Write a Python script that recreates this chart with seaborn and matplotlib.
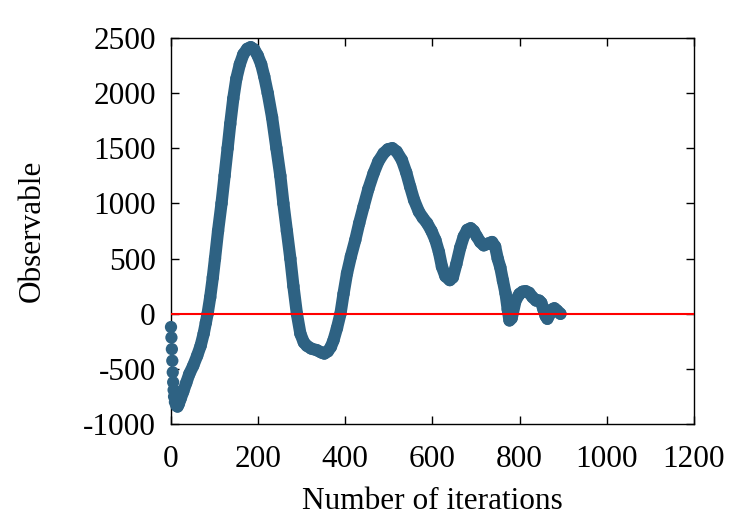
import pandas as pd
import seaborn as sns
import matplotlib.pyplot as plt

# values
iterations = [0, 1, 2, 3, 4, 5, 6, 7, 9, 12, 15, 18, 22, 28, 35, 42, 51, 60, 68, 75,
              80, 84, 90, 96, 101, 108, 116, 123, 130, 136, 143, 150, 158, 166, 175,
              183, 191, 199, 207, 214, 222, 232, 242, 251, 258, 266, 274, 281, 289,
              297, 305, 312, 322, 335, 345, 352, 360, 367, 373, 381, 389, 396, 404,
              413, 423, 432, 442, 453, 465, 476, 488, 498, 508, 518, 530, 540, 549,
              558, 569, 578, 588, 598, 607, 615, 622, 630, 640, 647, 655, 664, 672,
              680, 688, 695, 702, 710, 718, 727, 737, 744, 750, 756, 762, 768, 773,
              777, 782, 791, 800, 807, 814, 822, 830, 838, 845, 850, 855, 860, 864,
              870, 875, 880, 886, 894]
observable = [-120, -215, -320, -425, -530, -620, -690, -750, -800, -830, -840, -815,
              -770, -705, -625, -545, -470, -380, -290, -180, -80, 0, 150, 330, 500,
              750, 1000, 1250, 1500, 1720, 1950, 2130, 2260, 2350, 2400, 2415, 2395,
              2340, 2260, 2150, 2000, 1780, 1500, 1250, 1000, 750, 500, 250, 0, -180,
              -260, -290, -315, -330, -350, -360, -340, -300, -240, -130, 0, 180, 366,
              520, 668, 820, 970, 1130, 1273, 1380, 1454, 1490, 1500, 1470, 1393, 1280,
              1151, 1030, 925, 870, 820, 750, 668, 560, 426, 340, 305, 330, 450, 600,
              700, 760, 775, 750, 700, 650, 620, 635, 650, 610, 500, 420, 300, 185, 40,
              -60, -40, 120, 180, 200, 205, 190, 150, 120, 120, 100, 40, -20, -45, 0,
              40, 50, 30, 0]
baseline = 0
x_ticks = [0, 200, 400, 600, 800, 1000, 1200]
y_ticks = [-1000, -500, 0, 500, 1000, 1500, 2000, 2500]

blue = '#2e6283'

sns.set_style('ticks')
plt.rcParams['font.family'] = ['Liberation Serif', 'DejaVu Serif']
plt.rcParams['axes.unicode_minus'] = False
plt.rcParams['text.color'] = 'black'
plt.rcParams['axes.labelcolor'] = 'black'
plt.rcParams['xtick.color'] = 'black'
plt.rcParams['ytick.color'] = 'black'

fig, ax = plt.subplots(figsize=(7.5, 5.25), dpi=100)
fig.subplots_adjust(left=0.228, right=0.925, top=0.928, bottom=0.192)

df = pd.DataFrame({'iteration': iterations, 'observable': observable})
curve = df[df['iteration'] >= 6]

sns.lineplot(data=curve, x='iteration', y='observable', sort=False,
             estimator=None, color=blue, linewidth=8.8,
             solid_capstyle='round', solid_joinstyle='round', ax=ax)
sns.scatterplot(data=df, x='iteration', y='observable', s=78, color=blue,
                edgecolor='none', linewidth=0, ax=ax, zorder=3, clip_on=False)

ax.axhline(baseline, color='red', linewidth=1.5, zorder=4)

ax.set_xlim(0, 1200)
ax.set_ylim(-1000, 2500)
ax.set_xticks(x_ticks)
ax.set_yticks(y_ticks)
ax.tick_params(axis='both', direction='in', top=True, right=True, length=6,
               width=1, labelsize=22.5, colors='black')
ax.tick_params(axis='x', pad=15)
ax.tick_params(axis='y', pad=11)
for s in ax.spines.values():
    s.set_linewidth(1.0)
    s.set_color('black')

ax.set_xlabel('Number of iterations', fontsize=22.5, labelpad=9)
ax.set_ylabel('Observable', fontsize=22.5, labelpad=26)

fig.savefig('out.png', dpi=100)
